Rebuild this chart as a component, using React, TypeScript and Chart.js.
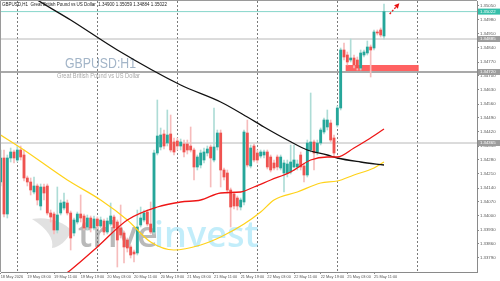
import React, { useEffect, useRef } from "react";
import { Chart, registerables } from "chart.js";

Chart.register(...registerables);

// ---- Data (H1 candles, index 0 = 18 May 19:00) ----
const openP = [
  1.3417, 1.3429, 1.3401, 1.3429, 1.3432, 1.3428, 1.3433, 1.34305, 1.3419, 1.3417,
  1.3412, 1.3415, 1.3405, 1.34145, 1.3415, 1.34015, 1.3401, 1.3393, 1.34015, 1.3404,
  1.34065, 1.34015, 1.33915, 1.3397, 1.3401, 1.34, 1.33945, 1.3399, 1.3394, 1.33985,
  1.3395, 1.33975, 1.3392, 1.3396, 1.33995, 1.3397, 1.3394, 1.33915, 1.3388, 1.33845,
  1.3382, 1.33815, 1.33955, 1.3398, 1.3402, 1.3396, 1.3392, 1.34315, 1.34345, 1.3441,
  1.34365, 1.3441, 1.3437, 1.34375, 1.3435, 1.3436, 1.3436, 1.3435, 1.3433, 1.34245,
  1.34255, 1.3428, 1.34315, 1.34345, 1.3428, 1.34345, 1.34415, 1.3423, 1.34215, 1.3413,
  1.3411, 1.3409, 1.34045, 1.3407, 1.34415, 1.3425, 1.3435, 1.34315, 1.343, 1.34305,
  1.3432, 1.34295, 1.34265, 1.34295, 1.3424, 1.34215, 1.34215, 1.3422, 1.34245, 1.34245,
  1.34305, 1.3425, 1.34205, 1.3433, 1.3437, 1.3432, 1.34365, 1.3442, 1.34445, 1.34465,
  1.3439, 1.34455, 1.3454, 1.3483, 1.34805, 1.3478, 1.3479, 1.3478, 1.3474, 1.34805,
  1.34815, 1.34845, 1.3484, 1.3492, 1.3493, 1.349,
];
const highP = [
  1.3433, 1.3433, 1.34305, 1.3434, 1.3433, 1.3435, 1.3435, 1.3433, 1.342, 1.3419,
  1.34195, 1.3416, 1.3416, 1.3416, 1.3416, 1.3403, 1.3402, 1.34145, 1.3408, 1.34115,
  1.3408, 1.34025, 1.3399, 1.3402, 1.34105, 1.3401, 1.34005, 1.34, 1.34, 1.33995,
  1.33995, 1.33985, 1.3399, 1.34065, 1.34005, 1.3398, 1.34055, 1.33925, 1.3389, 1.33855,
  1.3383, 1.3403, 1.34045, 1.3403, 1.3403, 1.3407, 1.3433, 1.3458, 1.3444, 1.3443,
  1.3453, 1.34505, 1.3439, 1.3439, 1.34385, 1.3438, 1.3438, 1.34445, 1.3434, 1.34305,
  1.3433, 1.3434, 1.3435, 1.34355, 1.3454, 1.3443, 1.3443, 1.3424, 1.3423, 1.3414,
  1.3412, 1.341, 1.3409, 1.3443, 1.3448, 1.34355, 1.3436, 1.3433, 1.3433, 1.3433,
  1.3433, 1.34305, 1.3428, 1.34305, 1.34305, 1.3428, 1.3428, 1.34355, 1.34355, 1.3428,
  1.3432, 1.34265, 1.3438, 1.34615, 1.3438, 1.3438, 1.3444, 1.3449, 1.3453, 1.3448,
  1.34405, 1.3455, 1.3484, 1.34865, 1.3482, 1.34885, 1.34805, 1.34795, 1.3483, 1.3483,
  1.34875, 1.34855, 1.3493, 1.3493, 1.3494, 1.35059,
];
const lowP = [
  1.3415, 1.33995, 1.3399, 1.3427, 1.34265, 1.3427, 1.3428, 1.34175, 1.3415, 1.34105,
  1.3411, 1.34055, 1.3403, 1.3408, 1.34005, 1.3397, 1.3391, 1.33915, 1.34005, 1.3403,
  1.34005, 1.3383, 1.339, 1.3396, 1.3397, 1.3393, 1.3393, 1.3392, 1.3393, 1.33935,
  1.3394, 1.33905, 1.3391, 1.3395, 1.3392, 1.33745, 1.3389, 1.33765, 1.3382, 1.3379,
  1.3377, 1.33805, 1.33945, 1.3397, 1.3395, 1.3391, 1.3391, 1.34305, 1.3433, 1.34335,
  1.3435, 1.3432, 1.34305, 1.3433, 1.3433, 1.34295, 1.3431, 1.3432, 1.3418, 1.3423,
  1.3424, 1.34265, 1.343, 1.34145, 1.3427, 1.3433, 1.34145, 1.3418, 1.34115, 1.33945,
  1.34035, 1.3403, 1.3403, 1.34055, 1.34245, 1.3424, 1.3427, 1.34265, 1.3429, 1.3429,
  1.34235, 1.3422, 1.3423, 1.3423, 1.3423, 1.3412, 1.34195, 1.3421, 1.3424, 1.3423,
  1.3423, 1.3417, 1.34195, 1.3432, 1.3423, 1.34305, 1.34355, 1.3441, 1.3443, 1.3437,
  1.34295, 1.34445, 1.3453, 1.3478, 1.34755, 1.3477, 1.3474, 1.3473, 1.3473, 1.34795,
  1.34805, 1.34695, 1.3483, 1.34905, 1.34895, 1.34884,
];
const closeP = [
  1.3429, 1.3401, 1.3429, 1.3432, 1.3429, 1.3433, 1.34295, 1.3419, 1.3417, 1.3413,
  1.3415, 1.3408, 1.34145, 1.34115, 1.34015, 1.33995, 1.3393, 1.34005, 1.34065, 1.3407,
  1.34015, 1.3389, 1.3398, 1.3401, 1.3399, 1.3394, 1.3399, 1.3394, 1.33985, 1.3395,
  1.3398, 1.3392, 1.33975, 1.34, 1.3394, 1.3388, 1.33905, 1.33845, 1.3384, 1.33805,
  1.3381, 1.33945, 1.3399, 1.34015, 1.3396, 1.3392, 1.34315, 1.344, 1.34405, 1.3435,
  1.34405, 1.3433, 1.3432, 1.3435, 1.3437, 1.3432, 1.3433, 1.3433, 1.34245, 1.34295,
  1.34315, 1.3432, 1.34335, 1.3429, 1.34345, 1.34415, 1.3423, 1.34195, 1.3413, 1.34045,
  1.3405, 1.3405, 1.3408, 1.3442, 1.34255, 1.3434, 1.3428, 1.3428, 1.3432, 1.3432,
  1.34245, 1.3423, 1.3424, 1.34245, 1.34295, 1.34265, 1.3426, 1.3427, 1.3428, 1.3426,
  1.34245, 1.34205, 1.34365, 1.3437, 1.34315, 1.34365, 1.3443, 1.3448, 1.3448, 1.3438,
  1.34315, 1.3454, 1.3483, 1.34795, 1.3477, 1.3479, 1.34755, 1.3474, 1.34815, 1.3482,
  1.34845, 1.3483, 1.3492, 1.34915, 1.34905, 1.35022,
];

// Moving averages (candle index, price)
const maBlackX = [6, 11, 21, 35, 54, 66, 74, 79, 86, 92, 98, 101, 108, 115];
const maBlackY = [1.35135, 1.3508, 1.3498, 1.3483, 1.34655, 1.3457, 1.34495, 1.34445, 1.3438, 1.3433, 1.34305, 1.3429, 1.3427, 1.34255];
const maRedX = [16, 21, 29, 38, 47, 54, 60, 66, 72, 76, 81, 87, 93, 98, 101, 106, 110, 115];
const maRedY = [1.3367, 1.3373, 1.33845, 1.3398, 1.34045, 1.3407, 1.3408, 1.34115, 1.3412, 1.34145, 1.3418, 1.3422, 1.3428, 1.34295, 1.34295, 1.3434, 1.3438, 1.34435];
const maYellowX = [0, 7, 20, 30, 38, 45, 52, 60, 66, 73, 78, 82, 89, 96, 101, 106, 112, 115];
const maYellowY = [1.34405, 1.3433, 1.3418, 1.3408, 1.3398, 1.3387, 1.3383, 1.33855, 1.33895, 1.3396, 1.3402, 1.3408, 1.3412, 1.34165, 1.34175, 1.34205, 1.3424, 1.3427];

// Horizontal levels
const levelPrices = [1.35022, 1.34885, 1.3472, 1.34365];

// Support zone and arrow (index, price)
const zoneX = [103.5, 125.4];
const zoneY = [1.3472, 1.34755];
const arrowFrom = [116.7, 1.3501];
const arrowTo = [119.4, 1.3506];

// Axes
const timeLabels = [
  "18 May 2026", "19 May 03:00", "19 May 11:00", "19 May 19:00", "20 May 03:00",
  "20 May 11:00", "20 May 19:00", "21 May 03:00", "21 May 11:00", "21 May 19:00",
  "22 May 03:00", "22 May 11:00", "22 May 19:00", "25 May 03:00", "25 May 11:00",
];
const timeLabelIndex = [0, 8, 16, 24, 32, 40, 48, 56, 64, 72, 80, 88, 96, 104, 112];
const daySeparatorIndex = [5, 29, 53, 77, 101, 125];
const priceTicks = [
  1.3379, 1.3386, 1.3393, 1.34, 1.3407, 1.3414, 1.3421, 1.3428, 1.3435, 1.3442,
  1.3449, 1.3456, 1.3463, 1.347, 1.3477, 1.3484, 1.3491, 1.3498, 1.3505,
];

const symbolTitle = "GBPUSD,H1";
const symbolName = "Great British Pound vs US Dollar";
const watermarkSymbol = "GBPUSD:H1";

const X_MIN = 0.1;
const X_MAX = 142.9;
const Y_MIN = 1.3372;
const Y_MAX = 1.35075;

const FONT = '"Liberation Sans", Arial, sans-serif';

export default function App() {
  const ref = useRef<HTMLCanvasElement | null>(null);

  useEffect(() => {
    document.body.style.margin = "0";
    const canvas = ref.current;
    if (!canvas) return;
    const idx = openP.map((_, i) => i);
    const bull = (i: number) => closeP[i] >= openP[i];
    const last = openP.length - 1;

    const levelColors = ["#86d6cb", "#b8b8b8", "#a9a9a9", "#b8b8b8"];
    const levelWidths = [1, 1, 1.8, 1];
    const levelBoxColors = ["#35bfa9", "#9c9c9c", "#9c9c9c", "#9c9c9c"];

    const overlay = {
      id: "overlay",
      beforeDatasetsDraw(chart: any) {
        const { ctx, chartArea: a, scales } = chart;
        const x = scales.x;
        const y = scales.y;
        ctx.save();
        ctx.textBaseline = "alphabetic";
        ctx.textAlign = "left";
        // symbol watermark
        ctx.fillStyle = "#a3b5c8";
        ctx.font = `14px ${FONT}`;
        ctx.fillText(watermarkSymbol, a.left + 64, a.top + 67, 71);
        ctx.fillStyle = "#a8a8a8";
        ctx.font = `6.5px ${FONT}`;
        ctx.fillText(symbolName, a.left + 56, a.top + 76.5, 83);
        // broker logo (wing)
        const lx = a.left + 31;
        const ly = a.top + 216;
        ctx.fillStyle = "rgba(200,200,200,0.55)";
        ctx.beginPath();
        ctx.moveTo(lx, ly + 2);
        ctx.bezierCurveTo(lx + 14, ly - 1, lx + 32, ly + 4, lx + 40, ly + 14);
        ctx.bezierCurveTo(lx + 34, ly + 24, lx + 28, ly + 30, lx + 20, ly + 31);
        ctx.bezierCurveTo(lx + 22, ly + 22, lx + 16, ly + 12, lx, ly + 2);
        ctx.fill();
        // broker watermark
        ctx.font = '600 36px "Open Sans", sans-serif';
        ctx.fillStyle = "rgba(100,100,100,0.45)";
        ctx.fillText("trive", a.left + 77, a.top + 246);
        ctx.fillStyle = "rgba(110,212,242,0.42)";
        ctx.fillText("invest", a.left + 153, a.top + 246);
        // zone
        const zx1 = x.getPixelForValue(zoneX[0]);
        const zx2 = x.getPixelForValue(zoneX[1]);
        const zy1 = y.getPixelForValue(zoneY[1]);
        const zy2 = y.getPixelForValue(zoneY[0]);
        ctx.fillStyle = "rgba(255,85,85,0.92)";
        ctx.fillRect(zx1, zy1, zx2 - zx1, zy2 - zy1);
        ctx.restore();
      },
      afterDatasetsDraw(chart: any) {
        const { ctx, chartArea: a, scales } = chart;
        const x = scales.x;
        const y = scales.y;
        ctx.save();
        // title
        ctx.fillStyle = "#222";
        ctx.font = `4.6px ${FONT}`;
        ctx.textBaseline = "alphabetic";
        const ohlc = [openP[last], highP[last], lowP[last], closeP[last]].map((v) => v.toFixed(5)).join(" ");
        ctx.fillText(`${symbolTitle}  ${symbolName}  ${ohlc}`, a.left + 1, a.top + 5, 165);
        // arrow
        const x1 = x.getPixelForValue(arrowFrom[0]);
        const y1 = y.getPixelForValue(arrowFrom[1]);
        const x2 = x.getPixelForValue(arrowTo[0]);
        const y2 = y.getPixelForValue(arrowTo[1]);
        const ang = Math.atan2(y2 - y1, x2 - x1);
        ctx.strokeStyle = "#e81010";
        ctx.fillStyle = "#e81010";
        ctx.lineWidth = 1.3;
        ctx.setLineDash([2, 1.5]);
        ctx.beginPath();
        ctx.moveTo(x1, y1);
        ctx.lineTo(x2 - 2 * Math.cos(ang), y2 - 2 * Math.sin(ang));
        ctx.stroke();
        ctx.setLineDash([]);
        ctx.beginPath();
        ctx.moveTo(x2 + Math.cos(ang), y2 + Math.sin(ang));
        ctx.lineTo(x2 - 4 * Math.cos(ang) + 2.5 * Math.sin(ang), y2 - 4 * Math.sin(ang) - 2.5 * Math.cos(ang));
        ctx.lineTo(x2 - 4 * Math.cos(ang) - 2.5 * Math.sin(ang), y2 - 4 * Math.sin(ang) + 2.5 * Math.cos(ang));
        ctx.closePath();
        ctx.fill();
        ctx.restore();
      },
      afterDraw(chart: any) {
        const { ctx, chartArea: a, scales, width } = chart;
        const y = scales.y;
        ctx.save();
        // frame left/top
        ctx.strokeStyle = "#9a9a9a";
        ctx.lineWidth = 1;
        ctx.beginPath();
        ctx.moveTo(a.left - 0.5, a.bottom);
        ctx.lineTo(a.left - 0.5, a.top - 0.5);
        ctx.lineTo(a.right, a.top - 0.5);
        ctx.stroke();
        // level labels
        ctx.font = `4.3px ${FONT}`;
        ctx.textBaseline = "middle";
        levelPrices.forEach((p, k) => {
          const py = y.getPixelForValue(p);
          ctx.fillStyle = levelBoxColors[k];
          ctx.fillRect(a.right + 1, py - 3, width - a.right - 1, 6);
          ctx.fillStyle = "#ffffff";
          ctx.fillText(p.toFixed(5), a.right + 3, py + 0.3);
        });
        ctx.restore();
      },
    };

    const lineDs = (xs: number[], ys: number[], color: string, w: number, order: number) => ({
      type: "line",
      data: xs.map((v, i) => ({ x: v, y: ys[i] })),
      borderColor: color,
      borderWidth: w,
      pointRadius: 0,
      cubicInterpolationMode: "monotone",
      fill: false,
      order,
      xAxisID: "x",
      yAxisID: "y",
    });

    const noPad = (s: any) => {
      s.paddingTop = 0;
      s.paddingBottom = 0;
      s.paddingLeft = 0;
      s.paddingRight = 0;
    };

    const chart = new Chart(canvas, {
      type: "bar",
      data: {
        datasets: [
          ...levelPrices.map((p, k) => ({
            type: "line",
            data: [{ x: X_MIN, y: p }, { x: X_MAX, y: p }],
            borderColor: levelColors[k],
            borderWidth: levelWidths[k],
            pointRadius: 0,
            order: 20,
            xAxisID: "x",
            yAxisID: "y",
          })),
          {
            type: "bar",
            data: idx.map((i) => ({ x: i, y: [lowP[i], highP[i]] })),
            backgroundColor: idx.map((i) => (bull(i) ? "#aedcd6" : "#f6bcbc")),
            barThickness: 1,
            grouped: false,
            order: 10,
            xAxisID: "x",
            yAxisID: "y",
          },
          {
            type: "bar",
            data: idx.map((i) => ({ x: i, y: [openP[i], closeP[i]] })),
            backgroundColor: idx.map((i) => (bull(i) ? "#26a69a" : "#ef5350")),
            barThickness: 2.2,
            minBarLength: 1,
            grouped: false,
            order: 9,
            xAxisID: "x",
            yAxisID: "y",
          },
          lineDs(maYellowX, maYellowY, "#ffd21a", 1.2, 3),
          lineDs(maBlackX, maBlackY, "#111111", 1.3, 2),
          lineDs(maRedX, maRedY, "#ee1616", 1.3, 1),
        ] as any,
      },
      options: {
        responsive: false,
        animation: false,
        devicePixelRatio: 1,
        events: [],
        layout: { padding: { left: 1, top: 1, right: 0, bottom: 0 } },
        plugins: { legend: { display: false }, tooltip: { enabled: false } },
        scales: {
          x: {
            type: "linear",
            position: "bottom",
            min: X_MIN,
            max: X_MAX,
            offset: false,
            afterBuildTicks: (s: any) => {
              s.ticks = timeLabelIndex.map((v) => ({ value: v }));
            },
            afterFit: (s: any) => {
              s.height = 9;
              noPad(s);
            },
            ticks: {
              autoSkip: false,
              maxRotation: 0,
              minRotation: 0,
              align: "start",
              padding: 1,
              color: "#555",
              font: { size: 3.9, family: FONT },
              callback: (_v: any, i: number) => timeLabels[i],
            },
            grid: { drawOnChartArea: false, drawTicks: true, tickLength: 2, color: "#888", offset: false },
            border: { display: true, color: "#8a8a8a", width: 1 },
          },
          xs: {
            type: "linear",
            position: "top",
            min: X_MIN,
            max: X_MAX,
            offset: false,
            afterBuildTicks: (s: any) => {
              s.ticks = daySeparatorIndex.map((v) => ({ value: v }));
            },
            afterFit: (s: any) => {
              s.height = 0;
              noPad(s);
            },
            ticks: { display: false },
            grid: { drawOnChartArea: true, drawTicks: false, color: "#7a7a7a", lineWidth: 1, offset: false },
            border: { display: false, dash: [2, 2] },
          },
          y: {
            type: "linear",
            position: "right",
            min: Y_MIN,
            max: Y_MAX,
            beginAtZero: false,
            afterBuildTicks: (s: any) => {
              s.ticks = priceTicks.map((v) => ({ value: v }));
            },
            afterFit: (s: any) => {
              s.width = 23;
              noPad(s);
            },
            ticks: {
              autoSkip: false,
              padding: 1,
              color: "#555",
              font: { size: 4.3, family: FONT },
              callback: (v: any) => Number(v).toFixed(5),
            },
            grid: { drawOnChartArea: false, drawTicks: true, tickLength: 2, color: "#888" },
            border: { display: true, color: "#8a8a8a", width: 1 },
          },
        },
      } as any,
      plugins: [overlay],
    });
    return () => chart.destroy();
  }, []);

  return (
    <div style={{ position: "fixed", left: 0, top: 0, width: 500, height: 281, background: "#fff" }}>
      <canvas ref={ref} width={500} height={281} style={{ display: "block", width: 500, height: 281 }} />
    </div>
  );
}
